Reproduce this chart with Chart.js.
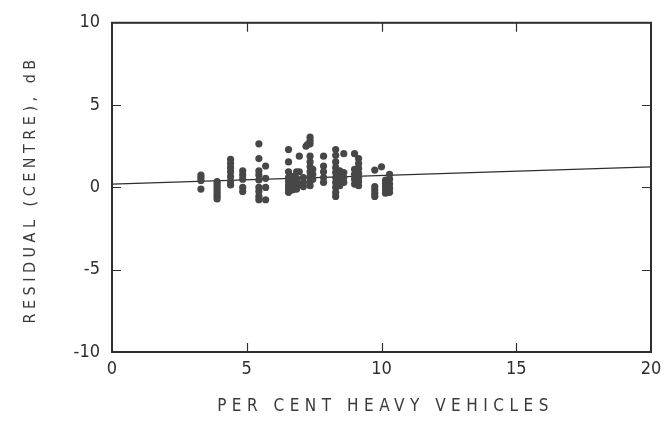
<!DOCTYPE html>
<html>
<head>
<meta charset="utf-8">
<script src="https://cdn.jsdelivr.net/npm/chart.js@4/dist/chart.umd.min.js"></script>
<style>
  html, body { margin: 0; padding: 0; background: #fff; }
  #wrap { width: 671px; height: 427px; }
</style>
</head>
<body>
<div id="wrap"><canvas id="chart-residual"></canvas></div>
<script>
// per cent heavy vehicles at each site, and the residual read at the centre
const percentHeavy = [
  3.3, 3.3, 3.3, 3.3,
  3.9, 3.9, 3.9, 3.9, 3.9, 3.9, 3.9, 3.9,
  4.4, 4.4, 4.4, 4.4, 4.4, 4.4, 4.4,
  4.85, 4.85, 4.85, 4.85, 4.85,
  5.45, 5.45, 5.45, 5.45, 5.45, 5.45, 5.45, 5.45, 5.45,
  5.7, 5.7, 5.7, 5.7,
  6.55, 6.55, 6.55, 6.55, 6.55, 6.55, 6.55, 6.55,
  6.7, 6.7, 6.7, 6.7, 6.7,
  6.85, 6.85, 6.85, 6.85, 6.85,
  6.95, 6.95,
  7.1, 7.1, 7.1,
  7.2, 7.25,
  7.35, 7.35, 7.35, 7.35, 7.35, 7.35, 7.35, 7.35, 7.35, 7.35,
  7.45, 7.45, 7.45,
  7.85, 7.85, 7.85, 7.85, 7.85,
  8.3, 8.3, 8.3, 8.3, 8.3, 8.3, 8.3, 8.3, 8.3, 8.3,
  8.45, 8.45, 8.45, 8.45,
  8.6, 8.6, 8.6, 8.6,
  9.0, 9.0, 9.0, 9.0, 9.0,
  9.15, 9.15, 9.15, 9.15, 9.15, 9.15, 9.15,
  9.75, 9.75, 9.75, 9.75, 9.75,
  10.0,
  10.15, 10.15, 10.15, 10.15, 10.15,
  10.3, 10.3, 10.3, 10.3, 10.3
];
const residual = [
  0.75, 0.6, 0.42, -0.1,
  0.35, 0.2, 0.05, -0.1, -0.25, -0.4, -0.55, -0.7,
  1.7, 1.45, 1.2, 0.95, 0.65, 0.35, 0.15,
  1.0, 0.75, 0.5, 0.0, -0.25,
  2.65, 1.75, 1.0, 0.75, 0.45, 0.0, -0.25, -0.55, -0.75,
  1.3, 0.55, 0.0, -0.75,
  2.3, 1.55, 0.95, 0.6, 0.35, 0.1, -0.1, -0.3,
  0.65, 0.45, 0.25, 0.05, -0.15,
  0.95, 0.55, 0.3, 0.1, -0.1,
  1.9, 0.95,
  0.6, 0.3, 0.05,
  2.5, 2.6,
  3.05, 2.85, 2.65, 1.9, 1.55, 1.25, 0.95, 0.65, 0.35, 0.1,
  1.1, 0.8, 0.5,
  1.9, 1.3, 0.95, 0.6, 0.3,
  2.3, 1.95, 1.55, 1.2, 0.9, 0.6, 0.3, 0.0, -0.3, -0.55,
  1.0, 0.7, 0.4, 0.1,
  2.05, 0.9, 0.6, 0.3,
  2.05, 1.1, 0.8, 0.5, 0.2,
  1.75, 1.45, 1.15, 0.85, 0.6, 0.35, 0.1,
  1.05, 0.05, -0.15, -0.35, -0.55,
  1.25,
  0.45, 0.25, 0.05, -0.15, -0.35,
  0.8, 0.5, 0.2, -0.05, -0.3
];

// fitted trend line
const fitX = [0, 20];
const fitY = [0.2, 1.25];

const xTitle = 'PER CENT HEAVY VEHICLES';
const yTitle = 'RESIDUAL (CENTRE), dB';

const ink = '#2e2e2e';
const narrow = '"Liberation Sans Narrow", "DejaVu Sans Condensed", sans-serif';
const tickFont = { family: narrow, size: 18 };

// box round the plot, inward ticks on all four sides, spaced-out axis titles
const framePlugin = {
  id: 'frame',
  afterDraw(chart) {
    const { ctx, chartArea: a, scales: { x, y } } = chart;
    ctx.save();
    ctx.strokeStyle = ink;
    ctx.lineWidth = 2;
    ctx.strokeRect(a.left, a.top, a.right - a.left, a.bottom - a.top);

    ctx.lineWidth = 1.2;
    const len = 9;
    ctx.beginPath();
    x.ticks.forEach(t => {
      if (t.value <= x.min || t.value >= x.max) return;
      const px = Math.round(x.getPixelForValue(t.value)) + 0.5;
      ctx.moveTo(px, a.bottom); ctx.lineTo(px, a.bottom - len);
      ctx.moveTo(px, a.top); ctx.lineTo(px, a.top + len);
    });
    y.ticks.forEach(t => {
      if (t.value <= y.min || t.value >= y.max) return;
      const py = Math.round(y.getPixelForValue(t.value)) + 0.5;
      ctx.moveTo(a.left, py); ctx.lineTo(a.left + len, py);
      ctx.moveTo(a.right, py); ctx.lineTo(a.right - len, py);
    });
    ctx.stroke();

    ctx.fillStyle = '#3a3a3a';
    ctx.textAlign = 'center';
    ctx.textBaseline = 'middle';
    ctx.font = '17px ' + narrow;
    ctx.letterSpacing = '5.5px';
    ctx.fillText(xTitle, (a.left + a.right) / 2 + 4, 407);

    ctx.font = '16px ' + narrow;
    ctx.letterSpacing = '4.5px';
    ctx.translate(31, (a.top + a.bottom) / 2 + 2);
    ctx.rotate(-Math.PI / 2);
    ctx.fillText(yTitle, 0, 0);
    ctx.restore();
  }
};

const chart = new Chart(document.getElementById('chart-residual'), {
  type: 'scatter',
  data: {
    datasets: [
      {
        label: 'residual',
        data: percentHeavy.map((p, i) => ({ x: p, y: residual[i] })),
        pointRadius: 3.6,
        pointBackgroundColor: '#474747',
        pointBorderColor: '#474747',
        pointBorderWidth: 0
      },
      {
        type: 'line',
        label: 'fit',
        data: fitX.map((p, i) => ({ x: p, y: fitY[i] })),
        borderColor: ink,
        borderWidth: 1.4,
        pointRadius: 0,
        fill: false
      }
    ]
  },
  options: {
    responsive: true,
    maintainAspectRatio: false,
    animation: false,
    layout: { padding: { top: 17, right: 20, left: 0, bottom: 0 } },
    plugins: {
      legend: { display: false },
      tooltip: { enabled: false }
    },
    scales: {
      x: {
        type: 'linear',
        min: 0,
        max: 20,
        ticks: { stepSize: 5, color: ink, font: tickFont, padding: 7 },
        grid: { display: false, drawTicks: false },
        border: { display: false },
        afterFit(scale) { scale.height = 75; }
      },
      y: {
        type: 'linear',
        min: -10,
        max: 10,
        ticks: { stepSize: 5, color: ink, font: tickFont, padding: 12 },
        grid: { display: false, drawTicks: false },
        border: { display: false },
        afterFit(scale) { scale.width = 112; }
      }
    }
  },
  plugins: [framePlugin]
});
</script>
</body>
</html>
